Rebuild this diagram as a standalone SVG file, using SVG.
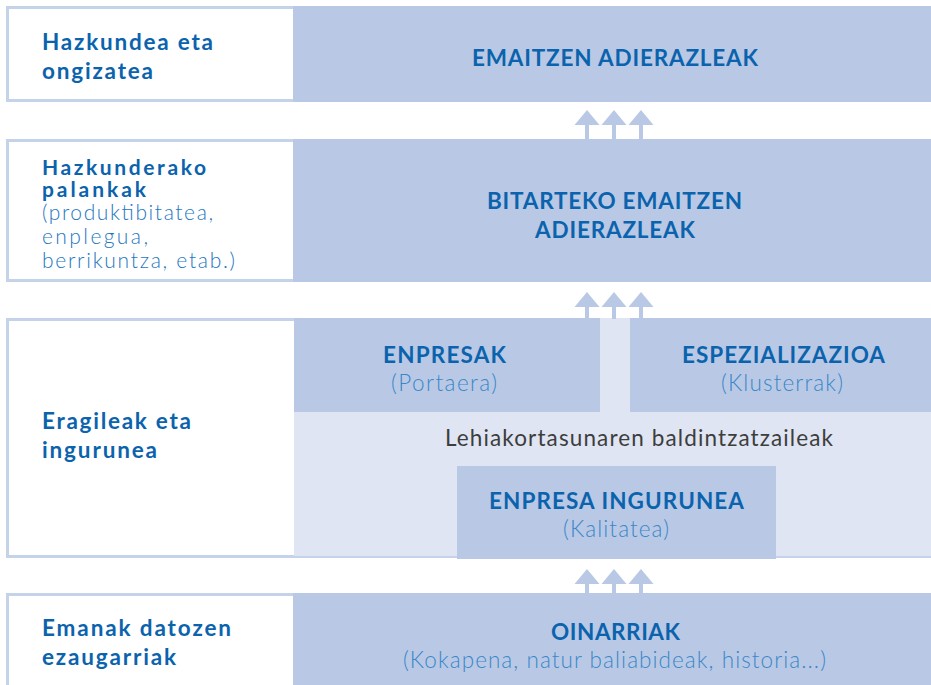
<svg xmlns="http://www.w3.org/2000/svg" width="931" height="685" viewBox="0 0 931 685">
<style>
.row{fill:#fff;stroke:#c4d2ea;stroke-width:3}
.dk{fill:#b9c9e5}
.lt{fill:#dfe5f2}
text{font-family:Lato,"Liberation Sans",sans-serif;font-size:22.5px}
.lbl{font-weight:700;fill:#0b63ad}
.sm{font-size:21px}
.sub{font-weight:300;fill:#2577bf;font-size:21px}
.ttl{font-weight:700;fill:#0b63ad;text-anchor:middle}
.stl{font-weight:300;fill:#3a87c9;text-anchor:middle}
.gry{font-weight:400;fill:#3d3d3d;text-anchor:middle}
.arr{fill:#b9c9e5}
</style>
<defs>
<g id="arrow3">
<g class="arr">
<path d="M-12.5,0 L0,-15 L12.5,0 Z"/>
</g>
</g>
</defs>
<g id="row1">
<rect class="row" x="7.5" y="7.5" width="930" height="93"/>
<rect class="dk" x="293" y="6" width="640" height="96"/>
<text class="lbl" x="42" y="50" textLength="171">Hazkundea eta</text>
<text class="lbl" x="42" y="79" textLength="111">ongizatea</text>
<text class="ttl" x="615" y="66" textLength="286">EMAITZEN ADIERAZLEAK</text>
</g>
<g id="row2">
<rect class="row" x="7.5" y="140.5" width="930" height="140"/>
<rect class="dk" x="293" y="139" width="640" height="143"/>
<text class="lbl sm" x="42" y="175" textLength="164">Hazkunderako</text>
<text class="lbl sm" x="42" y="197" textLength="104">palankak</text>
<text class="sub" x="42" y="220" textLength="171">(produktibitatea,</text>
<text class="sub" x="42" y="244" textLength="106">enplegua,</text>
<text class="sub" x="42" y="268" textLength="193">berrikuntza, etab.)</text>
<text class="ttl" x="614.5" y="209" textLength="255">BITARTEKO EMAITZEN</text>
<text class="ttl" x="615" y="238" textLength="160">ADIERAZLEAK</text>
</g>
<g id="row3">
<rect class="row" x="7.5" y="319.5" width="930" height="237"/>
<rect class="lt" x="294" y="318" width="640" height="238"/>
<text class="lbl" x="42" y="429" textLength="149">Eragileak eta</text>
<text class="lbl" x="42" y="458" textLength="115">ingurunea</text>
<text class="gry" x="639" y="446" textLength="388">Lehiakortasunaren baldintzatzaileak</text>
</g>
<g id="enpresak">
<rect class="dk" x="294" y="318" width="306" height="94"/>
<text class="ttl" x="444.5" y="363" textLength="123">ENPRESAK</text>
<text class="stl" x="444" y="391" textLength="106">(Portaera)</text>
</g>
<g id="espezializazioa">
<rect class="dk" x="630" y="318" width="303" height="94"/>
<text class="ttl" x="783.5" y="363" textLength="203">ESPEZIALIZAZIOA</text>
<text class="stl" x="782" y="391" textLength="122">(Klusterrak)</text>
</g>
<g id="enpresa-ingurunea">
<rect class="dk" x="457" y="466" width="319" height="93"/>
<text class="ttl" x="616.5" y="509" textLength="255">ENPRESA INGURUNEA</text>
<text class="stl" x="616" y="537" textLength="106">(Kalitatea)</text>
</g>
<g id="row4">
<rect class="row" x="7.5" y="594.5" width="930" height="100"/>
<rect class="dk" x="293" y="593" width="640" height="95"/>
<text class="lbl" x="42" y="636" textLength="189">Emanak datozen</text>
<text class="lbl" x="42" y="665" textLength="134">ezaugarriak</text>
<text class="ttl" x="615.5" y="640" textLength="129">OINARRIAK</text>
<text class="stl" x="614.5" y="668" textLength="423">(Kokapena, natur baliabideak, historia...)</text>
</g>
<g id="connectors" fill="#b9c9e5">
<g transform="translate(0,125)">
<use href="#arrow3" x="587"/><use href="#arrow3" x="614"/><use href="#arrow3" x="641"/>
<rect x="585" y="0" width="4" height="15"/><rect x="612" y="0" width="4" height="15"/><rect x="639" y="0" width="4" height="15"/>
</g>
<g transform="translate(0,307)">
<use href="#arrow3" x="587"/><use href="#arrow3" x="614"/><use href="#arrow3" x="641"/>
<rect x="585" y="0" width="4" height="12"/><rect x="612" y="0" width="4" height="12"/><rect x="639" y="0" width="4" height="12"/>
</g>
<g transform="translate(0,584)">
<use href="#arrow3" x="587"/><use href="#arrow3" x="614"/><use href="#arrow3" x="641"/>
<rect x="585" y="0" width="4" height="10"/><rect x="612" y="0" width="4" height="10"/><rect x="639" y="0" width="4" height="10"/>
</g>
</g>
</svg>
